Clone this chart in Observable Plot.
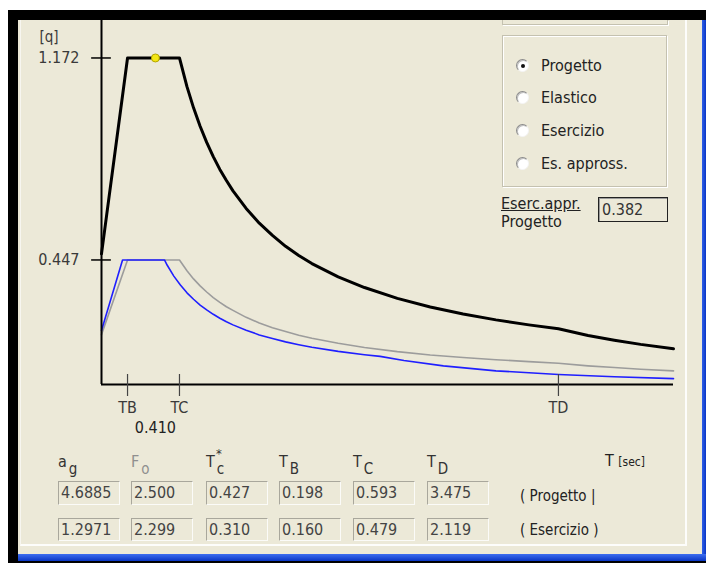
<!DOCTYPE html>
<html><head><meta charset="utf-8">
<script src="https://cdn.jsdelivr.net/npm/d3@7"></script>
<script src="https://cdn.jsdelivr.net/npm/@observablehq/plot@0.6"></script>
<style>
html,body{margin:0;padding:0;background:#fff;}
#page{position:relative;width:706px;height:563px;overflow:hidden;font-family:"DejaVu Sans Condensed","Liberation Sans Narrow","Liberation Sans",sans-serif;color:#333;}
.abs{position:absolute;}
.lbl{position:absolute;height:20px;line-height:20px;white-space:nowrap;}
.radio{position:absolute;width:11px;height:11px;border-radius:50%;background:#fff;border:1px solid;border-color:#8a8a8a #f4f4f4 #f4f4f4 #8a8a8a;box-shadow:inset 1px 1px 0 #c0c0c0;}
.radio.on::after{content:"";position:absolute;left:4px;top:4px;width:4px;height:4px;border-radius:50%;background:#111;}
.field{position:absolute;width:62px;box-sizing:border-box;border:1px solid;border-color:#a9a79c #fbfbf8 #fbfbf8 #a9a79c;font-size:16px;color:#444;padding-left:2px;white-space:nowrap;}
.plab{position:absolute;top:452px;font-size:16px;height:30px;white-space:nowrap;}
.plab .sub{position:relative;top:7px;margin-left:2px;font-size:15px;}
</style></head><body>
<div id="page">
  <div class="abs" style="left:8px;top:10px;width:698px;height:553px;background:#000;"></div>
  <div class="abs" style="left:18px;top:20px;width:684px;height:534px;background:#ECE9D8;"></div>
  <div class="abs" style="left:20px;top:20px;width:664px;height:524px;border-left:1px solid #f7f6f0;border-right:2px solid #fdfdfb;border-bottom:2px solid #fdfdfb;"></div>
  <div class="abs" style="left:702px;top:20px;width:4px;height:541px;background:linear-gradient(to right,#2f5fe8,#0a36c4);"></div>
  <div class="abs" style="left:18px;top:554px;width:688px;height:7px;background:linear-gradient(#3d6ef0,#0a36c4);"></div>
  <div id="chart" class="abs" style="left:18px;top:20px;"></div>
  <div id="panel"></div>
  <div id="params"></div>
</div>
<script>
// ---- data ----
const periodsProgetto = [0, 0.198, 0.593, 0.65, 0.7, 0.75, 0.8, 0.85, 0.9, 0.95, 1.0, 1.1, 1.2, 1.3, 1.4, 1.5, 1.6, 1.8, 2.0, 2.25, 2.5, 2.75, 3.0, 3.25, 3.475, 3.7, 3.9, 4.1, 4.35];
const qProgetto      = [0.469, 1.172, 1.172, 1.069, 0.993, 0.927, 0.869, 0.818, 0.772, 0.732, 0.695, 0.632, 0.579, 0.535, 0.496, 0.463, 0.434, 0.386, 0.348, 0.309, 0.278, 0.253, 0.232, 0.214, 0.200, 0.176, 0.159, 0.144, 0.128];
const qEsApprox      = [0.179, 0.447, 0.447, 0.408, 0.379, 0.354, 0.332, 0.312, 0.295, 0.279, 0.266, 0.241, 0.221, 0.204, 0.190, 0.177, 0.166, 0.148, 0.133, 0.118, 0.106, 0.097, 0.089, 0.082, 0.076, 0.067, 0.061, 0.055, 0.049];
const periodsEsercizio = [0, 0.160, 0.479, 0.5, 0.55, 0.6, 0.65, 0.7, 0.75, 0.8, 0.85, 0.9, 0.95, 1.0, 1.1, 1.2, 1.3, 1.4, 1.5, 1.6, 1.8, 2.0, 2.119, 2.3, 2.6, 3.0, 3.475, 3.9, 4.35];
const qEsercizio       = [0.194, 0.447, 0.447, 0.428, 0.389, 0.357, 0.329, 0.306, 0.285, 0.268, 0.252, 0.238, 0.225, 0.214, 0.195, 0.178, 0.165, 0.153, 0.143, 0.134, 0.119, 0.107, 0.101, 0.086, 0.067, 0.049, 0.036, 0.028, 0.021];
const yTicks = [0.447, 1.172];
const xTickValues = [0.198, 0.593, 3.475];
const xTickLabels = ["TB", "TC", "TD"];
const markerT = [0.410];
const markerQ = [1.172];
const radioOptions = ["Progetto", "Elastico", "Esercizio", "Es. appross."];
const ratioValue = "0.382";
const paramBase = ["a", "F", "T", "T", "T", "T"];
const paramSub  = ["g", "o", "c", "B", "C", "D"];
const rowProgetto  = ["4.6885", "2.500", "0.427", "0.198", "0.593", "3.475"];
const rowEsercizio = ["1.2971", "2.299", "0.310", "0.160", "0.479", "2.119"];
const rowNames = ["( Progetto |", "( Esercizio )"];

// ---- chart ----
const prog = periodsProgetto.map((T, i) => ({T, q: qProgetto[i]}));
const approx = periodsProgetto.map((T, i) => ({T, q: qEsApprox[i]}));
const eserc = periodsEsercizio.map((T, i) => ({T, q: qEsercizio[i]}));
const marker = markerT.map((T, i) => ({T, q: markerQ[i]}));
const fmt3 = d3.format(".3f");
const font = '"DejaVu Sans Condensed","Liberation Sans Narrow","Liberation Sans",sans-serif';

const chart = Plot.plot({
  width: 668, height: 420,
  marginLeft: 83, marginRight: 13, marginTop: 0, marginBottom: 56,
  x: {domain: [0, 4.35]},
  y: {domain: [0, 1.3065]},
  axis: null,
  style: {background: "transparent", fontFamily: font, fontSize: "16px", color: "#3a3a3a", overflow: "visible"},
  marks: [
    Plot.line(approx, {x: "T", y: "q", stroke: "#9c9c9c", strokeWidth: 1.6}),
    Plot.line(eserc, {x: "T", y: "q", stroke: "#1f1fff", strokeWidth: 1.6}),
    Plot.line(prog, {x: "T", y: "q", stroke: "#000", strokeWidth: 3}),
    Plot.ruleX([0], {stroke: "#000", strokeWidth: 2}),
    Plot.ruleY([0], {stroke: "#000", strokeWidth: 2}),
    Plot.ruleY(yTicks, {y: d => d, x1: -0.075, x2: 0.075, stroke: "#000", strokeWidth: 1.5}),
    Plot.ruleX(xTickValues, {x: d => d, y1: -0.043, y2: 0.036, stroke: "#444", strokeWidth: 1.2}),
    Plot.text(yTicks, {y: d => d, frameAnchor: "left", dx: -22, dy: 0, textAnchor: "end", text: d => fmt3(d), fill: "#3a3a3a"}),
    Plot.text(["[q]"], {frameAnchor: "top-left", dx: -62, dy: 11, textAnchor: "start", fill: "#3a3a3a", fontSize: 15}),
    Plot.text(xTickValues, {x: d => d, frameAnchor: "bottom", dy: 28, text: (d, i) => xTickLabels[i], fill: "#3a3a3a"}),
    Plot.text(markerT, {x: d => d, frameAnchor: "bottom", dy: 48, text: d => fmt3(d), fill: "#222"}),
    Plot.dot(marker, {x: "T", y: "q", r: 4, fill: "#f3e614", stroke: "#b3a400", strokeWidth: 1})
  ]
});
document.getElementById("chart").appendChild(chart);

// ---- right panel ----
let ph = '';
ph += '<div class="abs" style="left:502px;top:20px;width:164px;height:4px;border:1px solid #c4c1b0;border-top:none;box-shadow:1px 1px 0 #fff;"></div>';
ph += '<div class="abs" style="left:502px;top:35px;width:163px;height:150px;border:1px solid #c4c1b0;box-shadow:inset 1px 1px 0 #fff,1px 1px 0 #fff;"></div>';
const radioY = [66, 98, 131, 164];
radioOptions.forEach((t, i) => {
  ph += `<div class="radio${i === 0 ? ' on' : ''}" style="left:516px;top:${radioY[i] - 7}px;"></div>`;
  ph += `<div class="lbl" style="left:541px;top:${radioY[i] - 10}px;font-size:16px;color:#222;">${t}</div>`;
});
ph += '<div class="lbl" style="left:501px;top:194px;font-size:16px;color:#222;text-decoration:underline;">Eserc.appr.</div>';
ph += '<div class="lbl" style="left:501px;top:212px;font-size:16px;color:#222;">Progetto</div>';
ph += `<div class="abs" style="left:598px;top:197px;width:65px;height:23px;border:1px solid #222;box-shadow:inset 1px 1px 0 #9a9a9a;font-size:16px;line-height:23px;padding-left:3px;color:#333;">${ratioValue}</div>`;
document.getElementById("panel").innerHTML = ph;

// ---- bottom parameters ----
const colX = [58, 131, 206, 279, 353, 427];
let bh = '';
paramBase.forEach((b, i) => {
  const col = i === 1 ? '#8f8f8f' : '#333';
  const star = i === 2 ? '<span style="position:absolute;left:10px;top:-6px;font-size:13px;">*</span>' : '';
  bh += `<div class="plab" style="left:${colX[i]}px;color:${col};">${b}${star}<span class="sub">${paramSub[i]}</span></div>`;
  bh += `<div class="field" style="left:${colX[i]}px;top:481px;height:24px;line-height:22px;">${rowProgetto[i]}</div>`;
  bh += `<div class="field" style="left:${colX[i]}px;top:518px;height:23px;line-height:21px;">${rowEsercizio[i]}</div>`;
});
bh += `<div class="lbl" style="left:520px;top:486px;font-size:15px;color:#222;">${rowNames[0]}</div>`;
bh += `<div class="lbl" style="left:520px;top:520px;font-size:15px;color:#222;">${rowNames[1]}</div>`;
bh += '<div class="lbl" style="left:605px;top:451px;font-size:16px;color:#222;">T <span style="font-size:12px;">[sec]</span></div>';
document.getElementById("params").innerHTML = bh;
</script>
</body></html>
